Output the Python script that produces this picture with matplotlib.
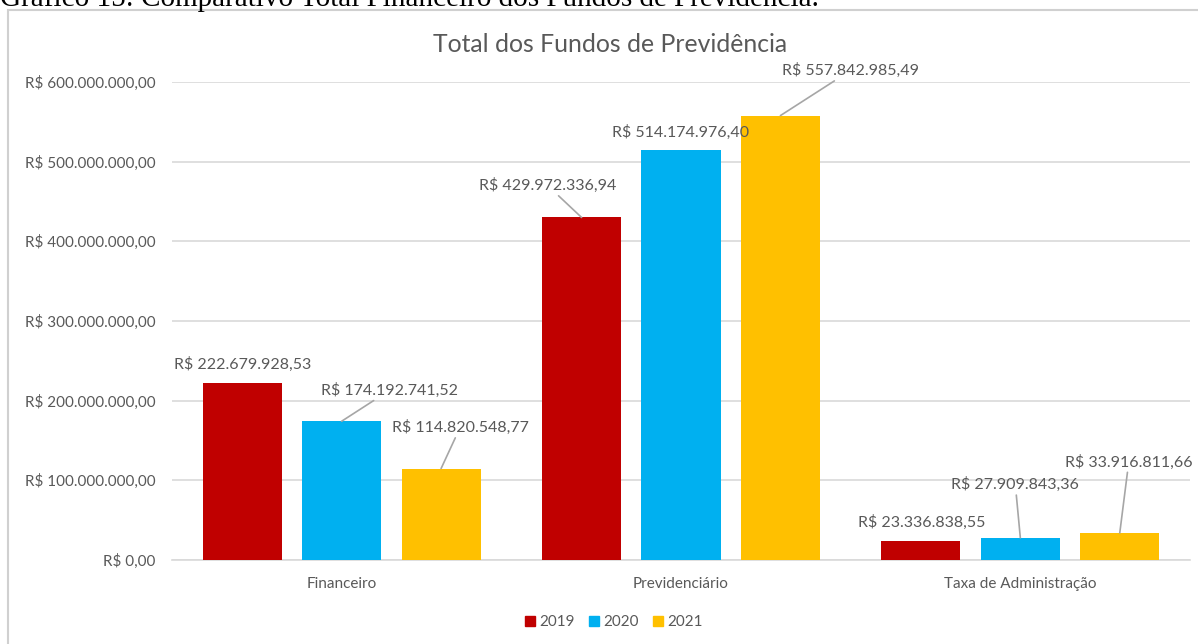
import matplotlib.pyplot as plt
import matplotlib.patches as mpatches
import numpy as np

plt.rcParams['font.family'] = ['Lato', 'DejaVu Sans']

# dados
categorias = ['Financeiro', 'Previdenciário', 'Taxa de Administração']
anos = ['2019', '2020', '2021']
v2019 = [222679928.53, 429972336.94, 23336838.55]
v2020 = [174192741.52, 514174976.40, 27909843.36]
v2021 = [114820548.77, 557842985.49, 33916811.66]
cores = ['#C00000', '#00B0F0', '#FFC000']

# deslocamento dos rotulos em pixels (dx, dy) e se tem linha guia
offs = {
    '2019': [(0, 18, False), (-34, 32, True), (1, 19, False)],
    '2020': [(48, 31, True), (0, 18, False), (-5, 53, True)],
    '2021': [(19, 41, True), (70, 45, True), (9, 71, True)],
}

cinza = '#595959'


def brl(v, pos=None):
    s = f"{v:,.2f}".replace(',', 'X').replace('.', ',').replace('X', '.')
    return 'R$ ' + s


fig = plt.figure(figsize=(11.98, 6.44), dpi=100)
W, H = 1198, 644
ax = fig.add_axes([172 / W, 1 - 560 / H, (1190 - 172) / W, (560 - 82) / H])

# moldura do grafico (estilo Excel)
fig.patches.append(mpatches.Rectangle((8 / W, -0.1), 1.2, 1 - 10 / H + 0.1,
                                      transform=fig.transFigure, fill=False,
                                      edgecolor='#d0d0d0', linewidth=1.5))
# legenda da figura cortada no topo
fig.text(0.0, 1 - 6 / H, 'Gráfico 15: Comparativo Total Financeiro dos Fundos de Previdência.',
         family=['Liberation Serif'], fontsize=21, color='black', va='baseline', ha='left')

x = np.arange(len(categorias))
passo = 0.293
largura = 0.233
series = [v2019, v2020, v2021]
for i, (ano, vals) in enumerate(zip(anos, series)):
    pos = x + (i - 1) * passo
    ax.bar(pos, vals, width=largura, color=cores[i], zorder=3, label=ano)
    for j, (px, v) in enumerate(zip(pos, vals)):
        dx, dy, guia = offs[ano][j]
        ap = dict(arrowstyle='-', color='#a6a6a6', lw=1.2, shrinkA=0, shrinkB=0) if guia else None
        ax.annotate(brl(v), xy=(px, v), xytext=(dx, dy), textcoords='offset pixels',
                    ha='center', va='center', fontsize=11.5, color=cinza,
                    arrowprops=ap, annotation_clip=False, zorder=6)

ax.set_xlim(-0.5, 2.5)
ax.set_ylim(0, 600e6)
ax.set_yticks(np.arange(0, 600e6 + 1, 100e6))
ax.yaxis.set_major_formatter(plt.FuncFormatter(brl))
ax.set_xticks(x)
ax.set_xticklabels(categorias)
ax.tick_params(axis='y', length=0, pad=12, labelsize=11, labelcolor=cinza)
ax.tick_params(axis='x', length=0, pad=12, labelsize=11, labelcolor=cinza)
ax.grid(axis='y', color='#d9d9d9', linewidth=1.2, zorder=0)
for s in ['top', 'right', 'left']:
    ax.spines[s].set_visible(False)
ax.spines['bottom'].set_color('#d9d9d9')
ax.spines['bottom'].set_linewidth(1.2)

fig.text(610 / W, 1 - 44 / H, 'Total dos Fundos de Previdência', ha='center', va='center',
         fontsize=17.8, color=cinza)

handles = [mpatches.Patch(color=c, label=a) for c, a in zip(cores, anos)]
fig.legend(handles=handles, loc='center', bbox_to_anchor=(614 / W, 1 - 622 / H), ncol=3,
           frameon=False, handlelength=0.65, handleheight=0.65, handletextpad=0.3,
           columnspacing=0.9, fontsize=11, labelcolor=cinza)

plt.savefig('out.png', dpi=100)
